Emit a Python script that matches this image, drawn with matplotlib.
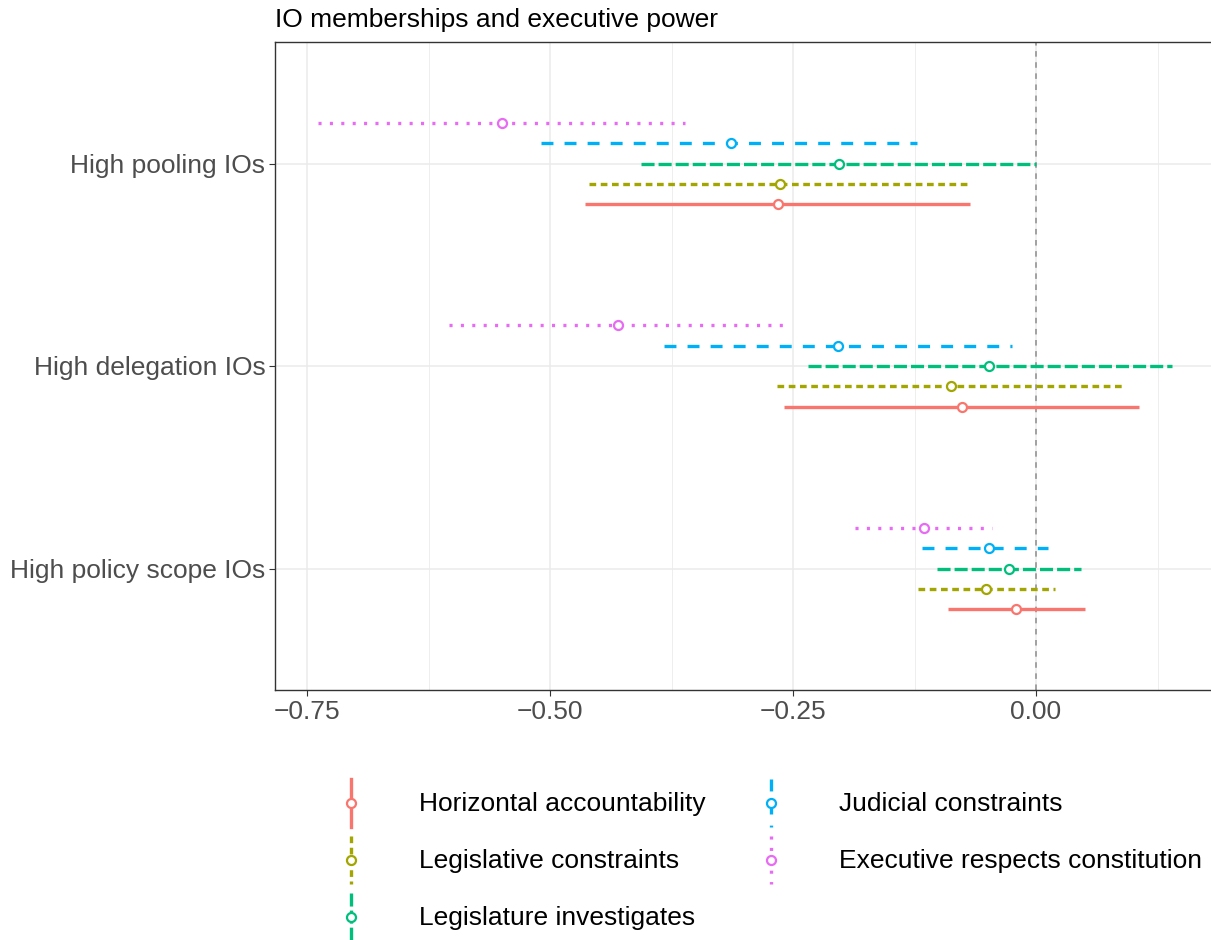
import matplotlib
matplotlib.use("Agg")
import matplotlib.pyplot as plt
from matplotlib.lines import Line2D
from matplotlib.legend_handler import HandlerBase
import numpy as np

plt.rcParams['font.family'] = ['Liberation Sans', 'DejaVu Sans']
plt.rcParams['lines.scale_dashes'] = False

# categories (bottom to top)
categories = ["High policy scope IOs", "High delegation IOs", "High pooling IOs"]
series = ["Horizontal accountability", "Legislative constraints",
          "Legislature investigates", "Judicial constraints",
          "Executive respects constitution"]

# estimates and intervals, per series, in category order above
est = {
    "Horizontal accountability":      [-0.021, -0.076, -0.266],
    "Legislative constraints":        [-0.051, -0.087, -0.263],
    "Legislature investigates":       [-0.028, -0.048, -0.203],
    "Judicial constraints":           [-0.048, -0.204, -0.314],
    "Executive respects constitution": [-0.115, -0.430, -0.549],
}
lower = {
    "Horizontal accountability":      [-0.091, -0.259, -0.464],
    "Legislative constraints":        [-0.121, -0.267, -0.460],
    "Legislature investigates":       [-0.102, -0.235, -0.406],
    "Judicial constraints":           [-0.117, -0.383, -0.509],
    "Executive respects constitution": [-0.186, -0.604, -0.739],
}
upper = {
    "Horizontal accountability":      [0.050, 0.106, -0.068],
    "Legislative constraints":        [0.020, 0.090, -0.067],
    "Legislature investigates":       [0.046, 0.140, 0.000],
    "Judicial constraints":           [0.012, -0.025, -0.122],
    "Executive respects constitution": [-0.045, -0.253, -0.361],
}

colors = ["#F8766D", "#A3A500", "#00BF7D", "#00B0F6", "#E76BF3"]
styles = ["-", (0, (4.8, 3.3)), (0, (9.4, 2.9)), (0, (8.6, 8.0)), (0, (2.2, 6.0))]
offsets = [-0.2, -0.1, 0.0, 0.1, 0.2]
lw = 2.4
fs = 19
style_of = dict(zip(series, styles))


class VerticalHandler(HandlerBase):
    # ggplot-style vertical key (coord_flip)
    def create_artists(self, legend, orig_handle, xdescent, ydescent,
                       width, height, fontsize, trans):
        cx = width / 2 - xdescent
        ln = Line2D([cx, cx], [height - ydescent, -ydescent],
                    color=orig_handle.get_color(), lw=lw,
                    linestyle=style_of[orig_handle.get_label()],
                    dash_capstyle='butt', transform=trans)
        mk = Line2D([cx], [height / 2 - ydescent], marker='o', markersize=6.5,
                    markerfacecolor='white', markeredgewidth=1.6,
                    markeredgecolor=orig_handle.get_color(), linestyle='none',
                    transform=trans)
        return [ln, mk]


fig = plt.figure(figsize=(12.11, 9.40), dpi=100)
ax = fig.add_axes([275 / 1211, 1 - 690 / 940, 1 - 275 / 1211, (690 - 42) / 940])

ypos = np.arange(1, len(categories) + 1)
handles = []
for i, s in enumerate(series):
    y = ypos + offsets[i]
    for j in range(len(categories)):
        ax.plot([lower[s][j], upper[s][j]], [y[j], y[j]], color=colors[i],
                lw=lw, linestyle=styles[i], solid_capstyle='butt',
                dash_capstyle='butt', zorder=3)
    ax.plot(est[s], y, linestyle='none', marker='o', markersize=6.5,
            markerfacecolor='white', markeredgecolor=colors[i],
            markeredgewidth=1.6, zorder=4)
    handles.append(Line2D([], [], color=colors[i], lw=lw, linestyle=styles[i],
                          label=s))

ax.axvline(0, color='#8C8C8C', linestyle=(0, (4, 4)), lw=1.1, zorder=2)

ax.set_xlim(-0.783, 0.18)
ax.set_ylim(0.4, 3.6)
ax.set_yticks(ypos)
ax.set_yticklabels(categories)
ax.set_xticks([-0.75, -0.5, -0.25, 0.0])
ax.set_xticklabels(["\u22120.75", "\u22120.50", "\u22120.25", "0.00"])
ax.set_xticks(np.arange(-0.625, 0.2, 0.25), minor=True)
ax.tick_params(axis='both', which='major', labelsize=fs, labelcolor='#4D4D4D',
               color='#333333', length=4, width=0.8, pad=3)
ax.tick_params(axis='x', which='minor', length=0)
ax.grid(True, which='major', color='#EBEBEB', lw=1.1, zorder=0)
ax.grid(True, which='minor', axis='x', color='#EBEBEB', lw=0.6, zorder=0)
ax.set_axisbelow(True)
for side in ['left', 'bottom', 'top']:
    ax.spines[side].set_color('#333333')
    ax.spines[side].set_linewidth(1.0)
ax.spines['right'].set_visible(False)

fig.text(275 / 1211, 1 - 20 / 940, "IO memberships and executive power",
         fontsize=fs, ha='left', va='center')

leg = fig.legend(handles=handles, loc='center', bbox_to_anchor=(0.633, 0.085),
                 ncol=2, frameon=False, fontsize=fs,
                 handler_map={Line2D: VerticalHandler()},
                 handlelength=1.5, handleheight=2.42, handletextpad=1.82,
                 labelspacing=0.34, columnspacing=1.74, borderpad=0, borderaxespad=0)

fig.savefig("out.png", dpi=100)
